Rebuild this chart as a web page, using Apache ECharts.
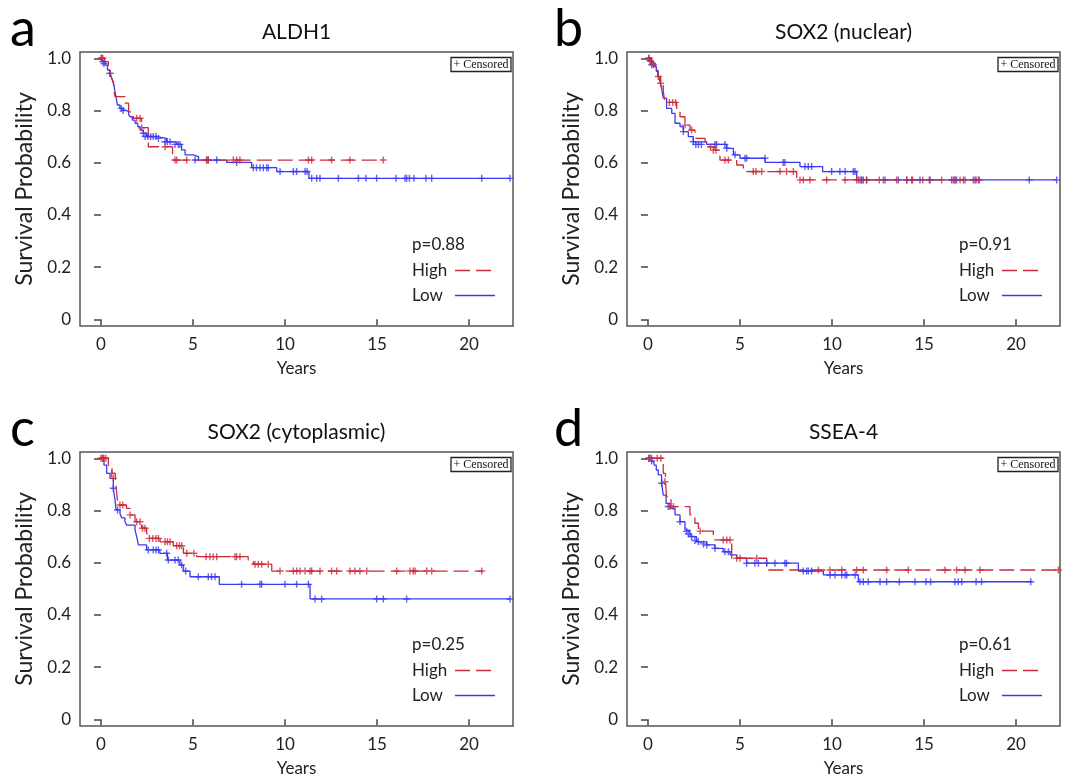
<!DOCTYPE html>
<html><head><meta charset="utf-8">
<script src="https://cdn.jsdelivr.net/npm/echarts@6/dist/echarts.min.js"></script>
<style>html,body{margin:0;padding:0;background:#fff}#c{width:1073px;height:778px}</style>
</head><body><div id="c"></div>
<script>
// ---------- data ----------
const panelTitles = ['ALDH1', 'SOX2 (nuclear)', 'SOX2 (cytoplasmic)', 'SSEA-4'];
const panelLetters = ['a', 'b', 'c', 'd'];
const pValues = ['p=0.88', 'p=0.91', 'p=0.25', 'p=0.61'];
const groupNames = ['High', 'Low'];
const xTicks = [0, 5, 10, 15, 20];
const yTicks = [0, 0.2, 0.4, 0.6, 0.8, 1.0];

// Kaplan-Meier steps: [years, survival]
const aHigh = [[0,1.0],[0.2,0.987],[0.4,0.955],[0.5,0.942],[0.6,0.92],[0.68,0.90],[0.72,0.87],[0.76,0.853],[1.3,0.828],[1.5,0.795],[1.75,0.77],[2.2,0.734],[2.57,0.661],[3.89,0.61],[15.34,0.61]];
const aLow = [[0,1.0],[0.1,0.987],[0.22,0.974],[0.35,0.955],[0.49,0.942],[0.58,0.923],[0.67,0.91],[0.72,0.89],[0.76,0.872],[0.82,0.85],[0.89,0.821],[1.03,0.808],[1.2,0.80],[1.39,0.795],[1.5,0.785],[1.57,0.776],[1.7,0.763],[1.85,0.751],[2.0,0.738],[2.12,0.725],[2.3,0.713],[2.48,0.70],[3.02,0.693],[3.57,0.68],[4.11,0.67],[4.38,0.649],[4.57,0.63],[5.0,0.623],[5.3,0.61],[6.83,0.601],[8.19,0.581],[9.55,0.566],[11.3,0.54],[22.23,0.54]];
const aHighCens = [[0.02,1.0],[0.1,1.0],[0.49,0.942],[1.94,0.77],[2.12,0.77],[2.21,0.734],[3.48,0.661],[4.02,0.61],[4.11,0.61],[4.66,0.61],[5.74,0.61],[5.83,0.61],[7.19,0.61],[7.37,0.61],[7.55,0.61],[11.27,0.61],[11.45,0.61],[12.53,0.61],[13.53,0.61],[15.34,0.61]];
const aLowCens = [[0.02,1.0],[0.1,0.987],[0.16,0.98],[0.49,0.942],[1.1,0.808],[1.2,0.80],[2.3,0.713],[2.4,0.70],[2.55,0.70],[2.7,0.70],[2.84,0.70],[2.99,0.70],[3.12,0.693],[3.48,0.68],[3.6,0.68],[3.75,0.68],[4.02,0.67],[4.2,0.67],[4.29,0.67],[5.11,0.61],[5.74,0.61],[5.83,0.61],[6.29,0.61],[7.37,0.601],[8.28,0.581],[8.45,0.581],[8.64,0.581],[8.82,0.581],[9.0,0.581],[9.09,0.581],[9.73,0.566],[10.45,0.566],[10.63,0.566],[11.09,0.566],[11.2,0.566],[11.45,0.54],[11.72,0.54],[11.9,0.54],[12.9,0.54],[13.99,0.54],[14.4,0.54],[14.98,0.54],[16.03,0.54],[16.52,0.54],[16.61,0.54],[16.76,0.54],[17.01,0.54],[17.66,0.54],[17.97,0.54],[20.69,0.54],[22.23,0.54]];

const bHigh = [[0,1.0],[0.2,0.981],[0.4,0.955],[0.53,0.93],[0.69,0.904],[0.83,0.872],[0.92,0.831],[1.56,0.808],[1.74,0.776],[2.01,0.744],[2.28,0.725],[2.55,0.693],[3.1,0.68],[3.28,0.661],[3.64,0.648],[3.91,0.61],[4.82,0.591],[5.18,0.566],[8.08,0.534],[18.04,0.534]];
const bLow = [[0,1.0],[0.14,0.987],[0.29,0.968],[0.45,0.95],[0.56,0.936],[0.65,0.91],[0.74,0.885],[0.83,0.847],[1.01,0.808],[1.29,0.789],[1.47,0.751],[1.74,0.738],[1.92,0.719],[2.19,0.70],[2.46,0.68],[3.19,0.67],[4.28,0.655],[4.64,0.63],[5.0,0.617],[6.36,0.601],[8.26,0.585],[9.49,0.566],[11.34,0.534],[22.21,0.534]];
const bHighCens = [[0.05,1.0],[0.15,0.99],[0.3,0.975],[0.56,0.93],[0.69,0.904],[1.16,0.831],[1.34,0.831],[1.5,0.831],[2.01,0.744],[2.37,0.725],[3.4,0.661],[3.55,0.648],[3.7,0.648],[4.18,0.61],[4.37,0.61],[5.72,0.566],[5.87,0.566],[6.18,0.566],[7.17,0.566],[7.53,0.566],[7.9,0.566],[8.26,0.534],[8.44,0.534],[8.8,0.534],[9.71,0.534],[10.71,0.534],[11.34,0.534],[11.43,0.534],[11.61,0.534],[11.88,0.534],[12.57,0.534],[12.79,0.534],[13.51,0.534],[14.06,0.534],[14.38,0.534],[14.93,0.534],[15.29,0.534],[15.96,0.534],[16.59,0.534],[16.68,0.534],[16.96,0.534],[17.23,0.534],[17.68,0.534],[17.83,0.534],[18.01,0.534]];
const bLowCens = [[0.05,1.0],[0.1,0.99],[0.2,0.975],[1.92,0.719],[2.46,0.68],[2.6,0.67],[2.74,0.67],[2.9,0.67],[3.64,0.67],[3.73,0.67],[4.18,0.67],[4.28,0.655],[4.73,0.63],[5.27,0.617],[5.36,0.617],[6.36,0.617],[7.35,0.601],[7.44,0.601],[8.53,0.585],[8.71,0.585],[8.89,0.585],[9.98,0.566],[10.43,0.566],[10.71,0.566],[11.16,0.566],[11.25,0.566],[11.52,0.534],[11.61,0.534],[11.7,0.534],[11.88,0.534],[12.88,0.534],[13.6,0.534],[14.06,0.534],[14.33,0.534],[14.78,0.534],[15.33,0.534],[16.5,0.534],[16.68,0.534],[16.77,0.534],[17.14,0.534],[17.77,0.534],[17.95,0.534],[20.72,0.534],[22.21,0.534]];

const cHigh = [[0,1.0],[0.4,0.974],[0.6,0.942],[0.78,0.923],[0.83,0.885],[0.89,0.84],[1.0,0.821],[1.39,0.808],[1.58,0.783],[1.85,0.757],[2.21,0.732],[2.48,0.716],[2.57,0.693],[3.21,0.68],[3.93,0.665],[4.48,0.636],[5.2,0.623],[8.0,0.61],[8.28,0.594],[9.28,0.568],[20.74,0.568]];
const cLow = [[0,1.0],[0.16,0.974],[0.31,0.942],[0.49,0.923],[0.67,0.885],[0.76,0.84],[0.82,0.802],[1.03,0.789],[1.12,0.772],[1.3,0.757],[1.4,0.744],[1.85,0.725],[1.94,0.70],[2.03,0.668],[2.48,0.649],[3.2,0.636],[3.61,0.61],[4.29,0.591],[4.48,0.568],[4.84,0.546],[6.43,0.517],[11.36,0.461],[22.23,0.461]];
const cHighCens = [[0.0,1.0],[0.09,1.0],[0.16,1.0],[0.27,1.0],[0.58,0.942],[0.67,0.923],[1.03,0.821],[1.18,0.821],[1.58,0.783],[1.94,0.757],[2.12,0.757],[2.26,0.732],[2.39,0.732],[2.63,0.693],[2.81,0.693],[2.99,0.693],[3.12,0.693],[3.48,0.68],[3.61,0.68],[3.75,0.68],[4.11,0.665],[4.26,0.665],[4.38,0.665],[4.66,0.636],[5.05,0.636],[5.71,0.623],[5.92,0.623],[6.1,0.623],[6.29,0.623],[7.28,0.623],[7.37,0.623],[7.55,0.623],[8.37,0.594],[8.55,0.594],[8.73,0.594],[9.09,0.594],[9.73,0.568],[10.45,0.568],[10.64,0.568],[10.82,0.568],[11.09,0.568],[11.36,0.568],[11.45,0.568],[11.9,0.568],[12.53,0.568],[12.81,0.568],[13.53,0.568],[13.8,0.568],[14.07,0.568],[14.44,0.568],[16.07,0.568],[16.79,0.568],[16.97,0.568],[17.07,0.568],[17.7,0.568],[17.97,0.568],[20.69,0.568]];
const cLowCens = [[0.09,1.0],[0.67,0.885],[0.9,0.802],[2.57,0.649],[2.84,0.649],[2.99,0.649],[3.12,0.649],[3.57,0.636],[3.66,0.61],[4.02,0.61],[4.2,0.61],[4.38,0.591],[4.6,0.568],[5.29,0.546],[5.83,0.546],[6.01,0.546],[6.2,0.546],[7.64,0.517],[8.64,0.517],[8.73,0.517],[10.0,0.517],[10.63,0.517],[11.27,0.517],[11.63,0.461],[11.99,0.461],[14.98,0.461],[15.34,0.461],[16.61,0.461],[22.23,0.461]];

const dHigh = [[0,1.0],[0.83,0.942],[0.95,0.91],[1.01,0.853],[1.25,0.815],[2.28,0.783],[2.55,0.751],[2.74,0.721],[3.55,0.687],[4.55,0.617],[6.45,0.572],[22.3,0.572]];
const dLow = [[0,1.0],[0.2,0.987],[0.33,0.974],[0.45,0.955],[0.56,0.936],[0.74,0.904],[0.83,0.859],[0.98,0.827],[1.2,0.808],[1.47,0.783],[1.74,0.757],[2.01,0.725],[2.28,0.70],[2.64,0.68],[3.19,0.668],[3.64,0.655],[4.09,0.642],[4.46,0.63],[4.82,0.617],[5.36,0.598],[8.17,0.568],[9.53,0.553],[11.43,0.527],[20.85,0.527]];
const dHighCens = [[0.05,1.0],[0.2,1.0],[0.5,1.0],[0.7,1.0],[0.92,0.91],[1.2,0.815],[1.38,0.815],[2.83,0.721],[4.09,0.687],[4.28,0.687],[4.46,0.687],[4.82,0.617],[5.0,0.617],[5.91,0.617],[9.26,0.572],[9.89,0.572],[10.53,0.572],[11.34,0.572],[11.7,0.572],[12.97,0.572],[14.15,0.572],[16.14,0.572],[16.77,0.572],[17.23,0.572],[18.04,0.572],[22.3,0.572]];
const dLowCens = [[0.05,1.0],[0.11,1.0],[0.2,0.99],[0.74,0.904],[1.1,0.815],[1.74,0.757],[2.1,0.72],[2.19,0.71],[2.37,0.70],[2.55,0.685],[2.74,0.68],[3.01,0.672],[3.19,0.668],[3.64,0.655],[4.18,0.642],[4.37,0.642],[5.36,0.598],[5.81,0.598],[6.0,0.598],[6.45,0.598],[6.9,0.598],[7.44,0.598],[7.53,0.598],[8.44,0.568],[8.62,0.568],[8.71,0.568],[8.89,0.568],[9.89,0.553],[10.16,0.553],[10.53,0.553],[10.71,0.553],[10.8,0.553],[11.25,0.553],[11.52,0.527],[11.7,0.527],[11.97,0.527],[12.61,0.527],[12.97,0.527],[13.66,0.527],[14.51,0.527],[15.11,0.527],[15.36,0.527],[16.68,0.527],[16.86,0.527],[17.05,0.527],[17.83,0.527],[18.13,0.527],[20.8,0.527]];

const highSteps = [aHigh, bHigh, cHigh, dHigh];
const lowSteps = [aLow, bLow, cLow, dLow];
const highCens = [aHighCens, bHighCens, cHighCens, dHighCens];
const lowCens = [aLowCens, bLowCens, cLowCens, dLowCens];

// ---------- layout / style ----------
const RED = '#CC2B3A', BLUE = '#3A3AF2';
const DASH = [15, 6];
const FONT = 'Lato';
const grids = [
  {left: 80, top: 52}, {left: 627, top: 52},
  {left: 80, top: 452}, {left: 627, top: 452}
];
const GW = 433, GH = 274;
const PLUS = 'path://M-0.1,-0.5H0.1V-0.1H0.5V0.1H0.1V0.5H-0.1V0.1H-0.5V-0.1H-0.1Z';

const option = {
  animation: false,
  backgroundColor: '#fff',
  textStyle: {fontFamily: FONT},
  grid: [], xAxis: [], yAxis: [], series: [], legend: [], graphic: []
};

grids.forEach((g, i) => {
  option.grid.push({left: g.left, top: g.top, width: GW, height: GH, show: true,
    borderColor: '#555', borderWidth: 1.5, backgroundColor: '#fff'});
  option.xAxis.push({
    gridIndex: i, type: 'value', min: -1.141, max: 22.39,
    axisLine: {show: false},
    axisTick: {show: true, customValues: xTicks, length: 6, lineStyle: {color: '#444', width: 1.5}},
    axisLabel: {customValues: xTicks, fontSize: 17, color: '#222', fontFamily: FONT, margin: 10},
    splitLine: {show: false},
    name: 'Years', nameLocation: 'middle', nameGap: 34,
    nameTextStyle: {fontSize: 17, color: '#222', fontFamily: FONT}
  });
  option.yAxis.push({
    gridIndex: i, type: 'value', min: -0.0257, max: 1.024,
    axisLine: {show: false},
    axisTick: {show: true, customValues: yTicks, length: 7, lineStyle: {color: '#444', width: 1.5}},
    axisLabel: {customValues: yTicks, fontSize: 17, color: '#222', fontFamily: FONT, margin: 9,
      formatter: v => (Math.abs(v) < 1e-9 ? '0' : v.toFixed(1))},
    splitLine: {show: false},
    name: 'Survival Probability', nameLocation: 'middle', nameGap: 44,
    nameTextStyle: {fontSize: 23, color: '#222', fontFamily: FONT}
  });
  option.series.push({
    type: 'line', name: groupNames[1], xAxisIndex: i, yAxisIndex: i, data: lowSteps[i],
    step: 'end', symbol: 'none', lineStyle: {color: BLUE, width: 1.3}, itemStyle: {color: BLUE}, z: 2
  });
  option.series.push({
    type: 'line', name: groupNames[0], xAxisIndex: i, yAxisIndex: i, data: highSteps[i],
    step: 'end', symbol: 'none', lineStyle: {color: RED, width: 1.3, type: DASH}, itemStyle: {color: RED}, z: 3
  });
  option.series.push({
    type: 'scatter', name: 'Low censored', xAxisIndex: i, yAxisIndex: i, data: lowCens[i],
    symbol: PLUS, symbolSize: 7, itemStyle: {color: BLUE, opacity: 0.8}, silent: true, z: 4
  });
  option.series.push({
    type: 'scatter', name: 'High censored', xAxisIndex: i, yAxisIndex: i, data: highCens[i],
    symbol: PLUS, symbolSize: 7, itemStyle: {color: RED, opacity: 0.8}, silent: true, z: 5
  });
  option.legend.push({
    left: g.left + 332, top: g.top + 209, orient: 'vertical', align: 'right',
    data: [
      {name: groupNames[0], itemStyle: {opacity: 0}, lineStyle: {type: DASH, width: 1.3, color: RED}},
      {name: groupNames[1], itemStyle: {opacity: 0}, lineStyle: {type: 'solid', width: 1.3, color: BLUE}}
    ],
    itemWidth: 40, itemHeight: 12, itemGap: 6, padding: 0,
    selectedMode: false,
    formatter: name => '{t|' + name + '}',
    textStyle: {fontSize: 17, color: '#222', fontFamily: FONT, lineHeight: 19,
      rich: {t: {width: 38, align: 'left', fontSize: 17, color: '#222', fontFamily: FONT, lineHeight: 19}}}
  });
  const cx = g.left + GW / 2;
  option.graphic.push(
    {type: 'text', x: cx, y: g.top - 20, style: {text: panelTitles[i], font: '21px ' + FONT, fill: '#111',
      textAlign: 'center', textVerticalAlign: 'middle', align: 'center', verticalAlign: 'middle'}},
    {type: 'text', x: g.left - 70 + (i % 2 ? -3 : 0), y: g.top - 23, style: {text: panelLetters[i], font: '52px ' + FONT, fill: '#000',
      textAlign: 'left', textVerticalAlign: 'middle', align: 'left', verticalAlign: 'middle'}},
    {type: 'text', x: g.left + 332, y: g.top + 193, style: {text: pValues[i], font: '17px ' + FONT, fill: '#222',
      textAlign: 'left', textVerticalAlign: 'middle', align: 'left', verticalAlign: 'middle'}},
    {type: 'rect', shape: {x: g.left + GW - 62, y: g.top + 5.5, width: 60, height: 14},
      style: {fill: '#fff', stroke: '#222', lineWidth: 1.3}, z: 10},
    {type: 'text', x: g.left + GW - 32, y: g.top + 12.8, z: 11, style: {text: '+ Censored', font: '12px "Liberation Serif"', fill: '#111',
      textAlign: 'center', textVerticalAlign: 'middle', align: 'center', verticalAlign: 'middle'}}
  );
});

const chart = echarts.init(document.getElementById('c'), null, {renderer: 'canvas'});
chart.setOption(option);
</script>
</body></html>
